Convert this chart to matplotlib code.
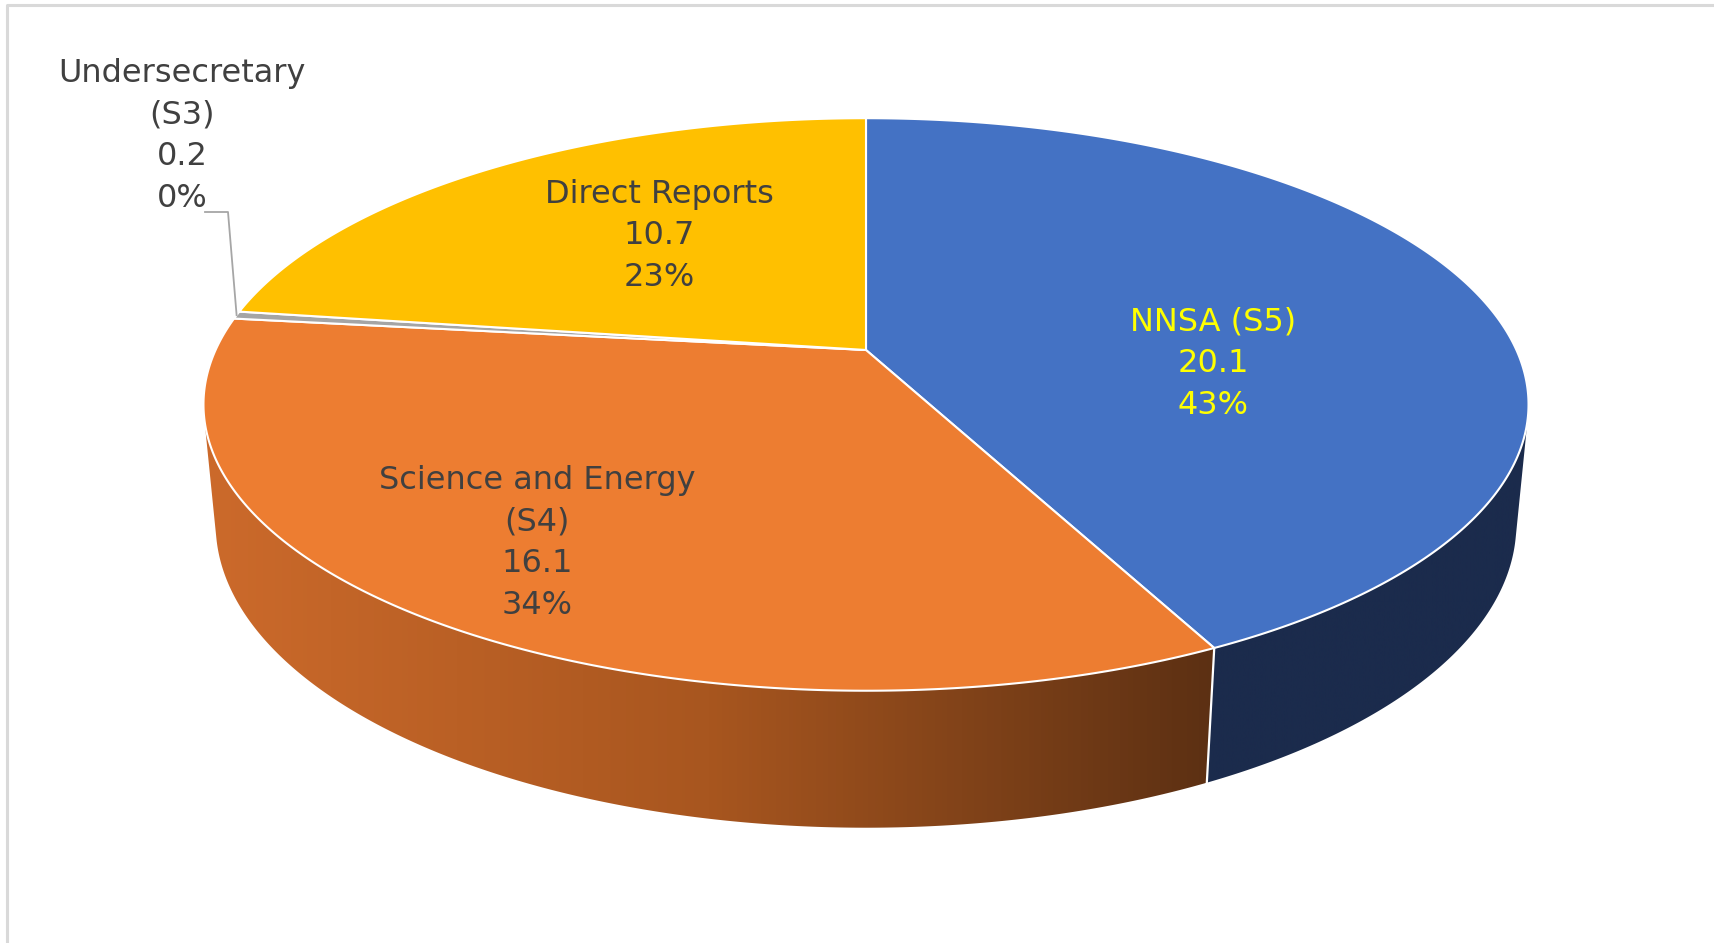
import numpy as np
import matplotlib.pyplot as plt
from matplotlib.patches import Polygon
from matplotlib.colors import LinearSegmentedColormap

# data
categories = ['NNSA (S5)', 'Science and Energy\n(S4)', 'Undersecretary\n(S3)', 'Direct Reports']
values = [20.1, 16.1, 0.2, 10.7]
top_colors = ['#4472C4', '#ED7D31', '#A5A5A5', '#FFC000']
side_stops = [['#1B2B4C', '#1B2B4C'],
              ['#CC6A2B', '#A8561F', '#5C3013'],
              ['#6E6E6E', '#6E6E6E'],
              ['#A67C00', '#A67C00']]
text_colors = ['#FFFF00', '#404040', '#404040', '#404040']
label_xy = [(1213, 364), (537, 543), (182, 136), (659, 236)]

# camera for the 3-D pie (unit radius disk, image pixels out)
cx, cy = 866, 350      # where the pie centre lands
elev = np.radians(25.1)
dist = 4.76
focal = 3096
height = 0.203         # thickness of the pie
se, ce = np.sin(elev), np.cos(elev)


def project(theta, z=0.0):
    # rim point at angle theta; z=0 top face, z=1 bottom face
    x = np.cos(theta)
    y = np.sin(theta)
    zz = -height * z
    depth = dist + y * ce - zz * se
    return cx + focal * x / depth, cy - focal * (y * se + zz * ce) / depth


total = sum(values)
fracs = np.array(values) / total
cum = np.concatenate([[0], np.cumsum(fracs)])
starts = np.pi / 2 - 2 * np.pi * cum[:-1]
ends = np.pi / 2 - 2 * np.pi * cum[1:]
mids = (starts + ends) / 2

# part of the rim that faces the camera (between the two silhouette lines)
q = np.arcsin(1.0 / (dist * ce))
vis_lo = -np.pi + q
vis_hi = -q

fig = plt.figure(figsize=(17.14, 9.43), dpi=100)
ax = fig.add_axes([0, 0, 1, 1])
ax.set_xlim(0, 1714)
ax.set_ylim(943, 0)
ax.axis('off')

# chart frame (only top and left edges are inside the picture)
ax.plot([7, 7, 1714], [943, 5, 5], color='#D9D9D9', lw=2.2, zorder=0)

# side walls, only the front-facing part
for i in range(len(values)):
    for shift in (-2 * np.pi, 0, 2 * np.pi):
        a = max(ends[i] + shift, vis_lo)
        b = min(starts[i] + shift, vis_hi)
        if a >= b:
            continue
        t = np.linspace(b, a, 300)
        xt, yt = project(t, 0)
        xb, yb = project(t[::-1], 1)
        xs = np.concatenate([xt, xb])
        ys = np.concatenate([yt, yb])
        wall = Polygon(np.column_stack([xs, ys]), closed=True, facecolor='none',
                       edgecolor='none', zorder=1)
        ax.add_patch(wall)
        cmap = LinearSegmentedColormap.from_list('side%d' % i, side_stops[i])
        grad = np.linspace(0, 1, 512).reshape(1, -1)
        im = ax.imshow(grad, extent=(xs.min(), xs.max(), ys.max(), ys.min()),
                       cmap=cmap, aspect='auto', zorder=1)
        im.set_clip_path(wall)

# white seams on the visible part of the wall
for b in starts:
    if vis_lo < b < vis_hi:
        x0, y0 = project(b, 0)
        x1, y1 = project(b, 1)
        ax.plot([x0, x1], [y0, y1], color='white', lw=1.6, zorder=2)

# top faces
for i in range(len(values)):
    t = np.linspace(starts[i], ends[i], 300)
    xt, yt = project(t, 0)
    pts = np.column_stack([np.r_[cx, xt], np.r_[cy, yt]])
    ax.add_patch(Polygon(pts, closed=True, facecolor=top_colors[i],
                         edgecolor='white', lw=1.5, zorder=3))

# data labels
for i in range(len(values)):
    txt = '%s\n%.1f\n%d%%' % (categories[i], values[i], round(fracs[i] * 100))
    ax.text(label_xy[i][0], label_xy[i][1], txt, ha='center', va='center',
            multialignment='center', fontsize=23, color=text_colors[i],
            linespacing=1.45, zorder=5)

# leader line for the small slice
ex, ey = project(mids[2], 0)
ax.plot([205, 228, ex], [212, 212, ey], color='#A6A6A6', lw=1.3, zorder=4)

plt.savefig('out.png', dpi=100)
